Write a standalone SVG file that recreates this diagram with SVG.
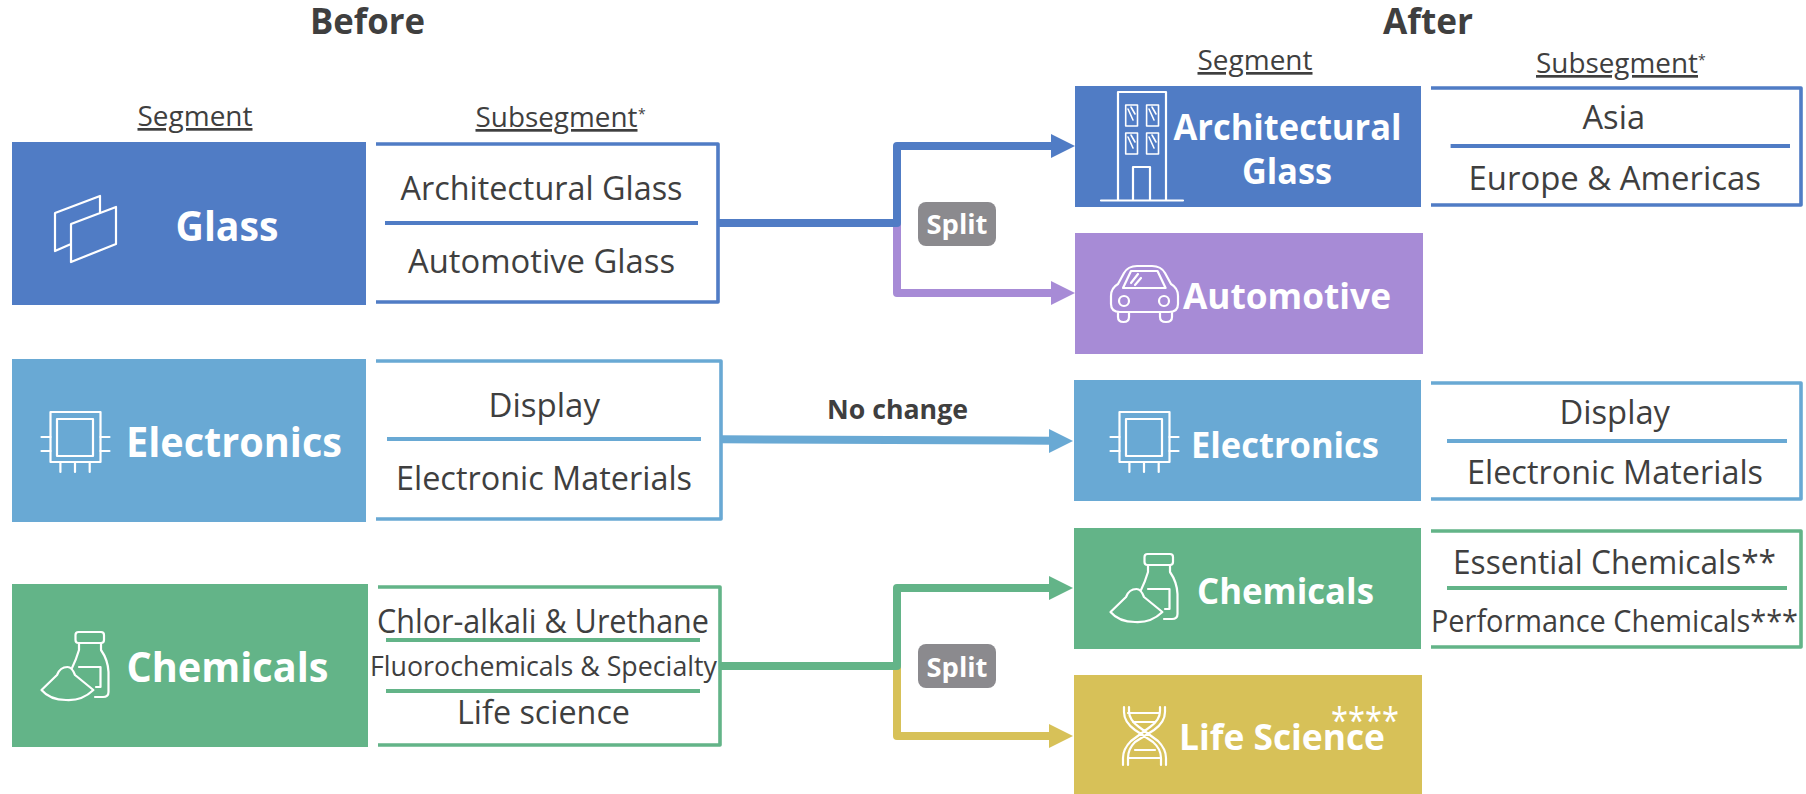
<svg xmlns="http://www.w3.org/2000/svg" width="1806" height="794" viewBox="0 0 1806 794">
<style>
text{font-family:"Open Sans","Noto Sans","Liberation Sans",sans-serif;}
.h{font-size:36px;font-weight:700;fill:#3f3f3f;text-anchor:start}
.c{font-size:27px;fill:#3f3f3f;text-decoration:underline}
.s{font-size:33px;fill:#3f3f3f}
.l{font-weight:700;fill:#fff}
.a{font-size:14px;fill:#3f3f3f}
.sp{font-size:26px;font-weight:700;fill:#fff}
.nc{font-size:27px;font-weight:700;fill:#3f3f3f}
.ic{fill:none;stroke:#fff;stroke-width:2.2;stroke-linejoin:round;stroke-linecap:round}
.bx{fill:none;stroke-width:3.6;stroke-linejoin:round}
.dv{stroke-width:4}
.cn{fill:none;stroke-width:8;stroke-linejoin:round;stroke-linecap:butt}
.blue{fill:#507cc5}.lblue{fill:#69a9d4}.green{fill:#63b488}.purple{fill:#a78bd6}.yellow{fill:#d7c158}
.sblue{stroke:#507cc5}.slblue{stroke:#69a9d4}.sgreen{stroke:#63b488}.spurple{stroke:#a78bd6}.syellow{stroke:#d7c158}
</style>
<defs>
<g id="chip" class="ic"><rect x="50.5" y="412" width="50" height="50"/><rect x="57" y="419" width="36" height="37"/><path d="M41.5 437H50.5M41.5 451H50.5M100.5 437H109.5M100.5 451H109.5M60.4 462V472M75 462V472M89.7 462V472"/></g>
<g id="bottle" class="ic"><rect x="75.5" y="632" width="28.5" height="11" rx="3"/><path d="M79 643V650Q76 660 72 668M101 643V650Q108 660 108.5 672V692Q108.5 697 103 697H95"/><path d="M79 667H100.500V687H96"/><path d="M41.500 690L57 675Q60 667 67.500 667Q72 667 75 675L93.400 690Q82 701 66 700Q50 700 41.500 690Z"/></g>
</defs>

<g id="titles">
<text class="h" x="310" y="34" textLength="115" lengthAdjust="spacingAndGlyphs">Before</text>
<text class="h" x="1383" y="34" textLength="90" lengthAdjust="spacingAndGlyphs">After</text>
<text class="c" x="137.500" y="126" textLength="115" lengthAdjust="spacingAndGlyphs">Segment</text>
<text class="c" x="475.500" y="127" textLength="162" lengthAdjust="spacingAndGlyphs">Subsegment</text>
<text class="a" x="638" y="119">*</text>
<text class="c" x="1197.500" y="70" textLength="115" lengthAdjust="spacingAndGlyphs">Segment</text>
<text class="c" x="1536" y="73" textLength="162" lengthAdjust="spacingAndGlyphs">Subsegment</text>
<text class="a" x="1698" y="65">*</text>
</g>

<g id="connectors">
<path class="cn spurple" d="M897 223V293H1053"/>
<path class="cn sblue" d="M718 223H897V146H1053"/>
<path class="cn slblue" d="M721 439.300L1051 440.700"/>
<path class="cn syellow" d="M897 666V736H1051"/>
<path class="cn sgreen" d="M720 666H897V588H1051"/>
<path class="purple" d="M1051 281L1075 293L1051 305Z"/>
<path class="blue" d="M1051 134L1075 146L1051 158Z"/>
<path class="lblue" d="M1049 429L1073 441L1049 453Z"/>
<path class="green" d="M1049 576L1073 588L1049 600Z"/>
<path class="yellow" d="M1049 724L1073 736L1049 748Z"/>
<text class="nc" x="827" y="418.500" textLength="141" lengthAdjust="spacingAndGlyphs">No change</text>
<rect x="918" y="202" width="78" height="44" rx="8" fill="#8b8a8e"/>
<text class="sp" x="926.500" y="234" textLength="61" lengthAdjust="spacingAndGlyphs">Split</text>
<rect x="918" y="644" width="78" height="44" rx="8" fill="#8b8a8e"/>
<text class="sp" x="926.500" y="677" textLength="61" lengthAdjust="spacingAndGlyphs">Split</text>
</g>

<g id="before-glass">
<rect class="blue" x="12" y="142" width="354" height="163"/>
<path class="ic" d="M71 224L116 207V244L71 262ZM71 244L55 251V213L100 196V212"/>
<text class="l" font-size="42" x="175.500" y="241" textLength="103" lengthAdjust="spacingAndGlyphs">Glass</text>
</g>
<g id="before-glass-sub">
<path class="bx sblue" d="M376 144H718V302H376"/>
<line class="dv sblue" x1="385" y1="223" x2="698" y2="223"/>
<text class="s" x="400.500" y="200" textLength="282" lengthAdjust="spacingAndGlyphs">Architectural Glass</text>
<text class="s" x="408" y="273" textLength="267" lengthAdjust="spacingAndGlyphs">Automotive Glass</text>
</g>

<g id="before-electronics">
<rect class="lblue" x="12" y="359" width="354" height="163"/>
<use href="#chip"/>
<text class="l" font-size="42" x="126" y="457" textLength="216" lengthAdjust="spacingAndGlyphs">Electronics</text>
</g>
<g id="before-electronics-sub">
<path class="bx slblue" d="M376 361H721V519H376"/>
<line class="dv slblue" x1="387" y1="439" x2="701" y2="439"/>
<text class="s" x="488.500" y="416.500" textLength="111.500" lengthAdjust="spacingAndGlyphs">Display</text>
<text class="s" x="396" y="490" textLength="296" lengthAdjust="spacingAndGlyphs">Electronic Materials</text>
</g>

<g id="before-chemicals">
<rect class="green" x="12" y="584" width="356" height="163"/>
<use href="#bottle"/>
<text class="l" font-size="42" x="126.500" y="682" textLength="202" lengthAdjust="spacingAndGlyphs">Chemicals</text>
</g>
<g id="before-chemicals-sub">
<path class="bx sgreen" d="M378 587H720V745H378"/>
<line class="dv sgreen" x1="386" y1="640" x2="700" y2="640"/>
<line class="dv sgreen" x1="386" y1="691" x2="700" y2="691"/>
<text class="s" x="377" y="632.500" textLength="332" lengthAdjust="spacingAndGlyphs">Chlor-alkali &amp; Urethane</text>
<text class="s" style="font-size:28px" x="370" y="675.500" textLength="347" lengthAdjust="spacingAndGlyphs">Fluorochemicals &amp; Specialty</text>
<text class="s" x="457" y="723.500" textLength="173" lengthAdjust="spacingAndGlyphs">Life science</text>
</g>

<g id="after-architectural">
<rect class="blue" x="1075" y="86" width="346" height="121"/>
<path class="ic" d="M1118 200V92H1166V200M1101 200.500H1183M1133 200V167H1150V200"/>
<path class="ic" style="stroke-width:1.6" d="M1125.700 105H1137.500V126H1125.700ZM1146.600 105H1158.500V126H1146.600ZM1125.700 133H1137.500V154H1125.700ZM1146.600 133H1158.500V154H1146.600ZM1128 109L1133 120M1131 107L1135 114M1149 109L1154 120M1152 107L1156 114M1128 137L1133 148M1131 135L1135 142M1149 137L1154 148M1152 135L1156 142"/>
<text class="l" font-size="36" x="1173.500" y="140" textLength="228" lengthAdjust="spacingAndGlyphs">Architectural</text>
<text class="l" font-size="36" x="1242" y="184" textLength="90" lengthAdjust="spacingAndGlyphs">Glass</text>
</g>
<g id="after-architectural-sub">
<path class="bx sblue" d="M1431 88H1801V205H1431"/>
<line class="dv sblue" x1="1450.600" y1="146" x2="1790" y2="146"/>
<text class="s" x="1582.500" y="129" textLength="62.500" lengthAdjust="spacingAndGlyphs">Asia</text>
<text class="s" x="1468.500" y="190" textLength="292.500" lengthAdjust="spacingAndGlyphs">Europe &amp; Americas</text>
</g>

<g id="after-automotive">
<rect class="purple" x="1075" y="233" width="348" height="121"/>
<path class="ic" d="M1121 312H1169Q1178 312 1178 304V296Q1178 288 1171 284L1165 273Q1161 266 1152 266H1137Q1128 266 1124 273L1118 284Q1111 288 1111 296V304Q1111 312 1120 312Z"/>
<path class="ic" d="M1131 271H1157.500L1165.600 288H1123ZM1118 313V317Q1118 322 1123.500 322Q1129 322 1129 317V313M1160 313V317Q1160 322 1166 322Q1172 322 1172 317V313M1131 283L1138 274M1135 285L1141 278"/>
<ellipse class="ic" cx="1124" cy="301" rx="5" ry="5"/><ellipse class="ic" cx="1164" cy="301" rx="5" ry="5"/>
<text class="l" font-size="36" x="1183" y="309" textLength="208" lengthAdjust="spacingAndGlyphs">Automotive</text>
</g>

<g id="after-electronics">
<rect class="lblue" x="1074" y="380" width="347" height="121"/>
<use href="#chip" x="1069"/>
<text class="l" font-size="36" x="1191" y="458" textLength="188" lengthAdjust="spacingAndGlyphs">Electronics</text>
</g>
<g id="after-electronics-sub">
<path class="bx slblue" d="M1431 383H1801V499H1431"/>
<line class="dv slblue" x1="1447" y1="441" x2="1787" y2="441"/>
<text class="s" x="1559.500" y="424" textLength="110.500" lengthAdjust="spacingAndGlyphs">Display</text>
<text class="s" x="1467" y="484" textLength="296" lengthAdjust="spacingAndGlyphs">Electronic Materials</text>
</g>

<g id="after-chemicals">
<rect class="green" x="1074" y="528" width="347" height="121"/>
<use href="#bottle" x="1069" y="-78"/>
<text class="l" font-size="36" x="1197" y="604" textLength="177" lengthAdjust="spacingAndGlyphs">Chemicals</text>
</g>
<g id="after-chemicals-sub">
<path class="bx sgreen" d="M1431 531H1801V647H1431"/>
<line class="dv sgreen" x1="1447" y1="588" x2="1787" y2="588"/>
<text class="s" x="1453" y="573.500" textLength="323" lengthAdjust="spacingAndGlyphs">Essential Chemicals**</text>
<text class="s" style="font-size:31px" x="1431" y="631.500" textLength="367" lengthAdjust="spacingAndGlyphs">Performance Chemicals***</text>
</g>

<g id="after-lifescience">
<rect class="yellow" x="1074" y="675" width="348" height="119"/>
<path class="ic" d="M1124 707V712Q1124 722 1135 730L1153 742Q1161 749 1161 758V765M1129 707V711Q1129 720 1139 727L1158 741Q1166 749 1166 758V765M1165 707V712Q1165 722 1154 730L1135 742Q1128 749 1128 758V765M1160 707V711Q1160 720 1150 727L1131 741Q1123 749 1123 758V765M1128 713H1160M1133 722H1155M1135 750H1155M1128 758H1161"/>
<text class="l" font-size="36" x="1179" y="750" textLength="206" lengthAdjust="spacingAndGlyphs">Life Science</text>
<text font-size="36" fill="#fff" x="1331" y="733" textLength="68" lengthAdjust="spacingAndGlyphs">****</text>
</g>
</svg>
